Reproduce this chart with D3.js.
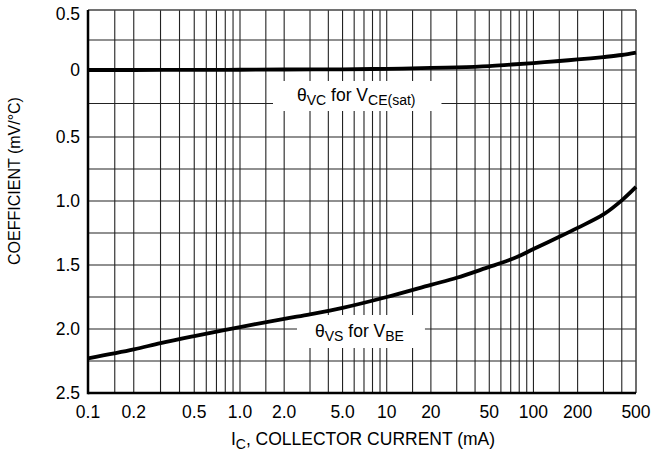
<!DOCTYPE html>
<html>
<head>
<meta charset="utf-8">
<script src="https://cdn.jsdelivr.net/npm/d3@7"></script>
<style>
  html, body { margin: 0; padding: 0; background: #fff; }
  svg { display: block; }
  text { font-family: "Liberation Sans", Arial, Helvetica, sans-serif; fill: #000; }
</style>
</head>
<body>
<svg id="chart" width="666" height="461"></svg>
<script>
// Collector current (mA) ticks and grid positions
const xTickValues = [0.1, 0.2, 0.5, 1, 2, 5, 10, 20, 50, 100, 200, 500];
const xTickLabels = ["0.1", "0.2", "0.5", "1.0", "2.0", "5.0", "10", "20", "50", "100", "200", "500"];
const xGridValues = [0.1, 0.15, 0.2, 0.3, 0.4, 0.5, 0.6, 0.7, 0.8, 0.9,
                     1, 1.5, 2, 3, 4, 5, 6, 7, 8, 9,
                     10, 15, 20, 30, 40, 50, 60, 70, 80, 90,
                     100, 150, 200, 300, 400, 500];

// Coefficient (mV/°C) ticks; negative values are printed without sign
const yTickValues = [0.5, 0, -0.5, -1.0, -1.5, -2.0, -2.5];
const yTickLabels = ["0.5", "0", "0.5", "1.0", "1.5", "2.0", "2.5"];
const yGridValues = [0.5, 0.25, 0, -0.25, -0.5, -0.75, -1.0, -1.25, -1.5, -1.75, -2.0, -2.25, -2.5];

// θVC for VCE(sat)
const vcCurrent = [0.1, 0.2, 0.5, 1, 2, 5, 10, 20, 30, 50, 70, 100, 150, 200, 300, 400, 500];
const vcCoeff   = [0, 0, 0.001, 0.002, 0.004, 0.006, 0.01, 0.017, 0.022, 0.033, 0.045, 0.058, 0.075, 0.088, 0.108, 0.125, 0.145];

// θVS for VBE
const vsCurrent = [0.1, 0.2, 0.3, 0.5, 1, 2, 3, 5, 10, 20, 30, 50, 60, 80, 100, 150, 200, 300, 400, 500];
const vsCoeff   = [-2.23, -2.16, -2.11, -2.055, -1.985, -1.92, -1.885, -1.835, -1.75, -1.655, -1.6, -1.515, -1.485, -1.43, -1.375, -1.28, -1.21, -1.105, -0.995, -0.89];

const svg = d3.select("#chart");
const plotL = 88, plotR = 636, plotT = 10, plotB = 393;
const mainSize = "17.5px", subSize = "14px";

const x = d3.scaleLog().domain([0.1, 1, 500]).range([plotL, 240, plotR]);
const y = d3.scaleLinear().domain([0.5, 0, -0.5, -2.5]).range([plotT, 70, 137, plotB]);

// grid
const grid = svg.append("g");
grid.selectAll("line.v").data(xGridValues).join("line").attr("class", "v")
  .attr("x1", d => x(d)).attr("x2", d => x(d))
  .attr("y1", plotT).attr("y2", plotB)
  .attr("stroke", "#222").attr("stroke-width", 1.1);
grid.selectAll("line.h").data(yGridValues).join("line").attr("class", "h")
  .attr("x1", plotL).attr("x2", plotR)
  .attr("y1", d => y(d)).attr("y2", d => y(d))
  .attr("stroke", "#222").attr("stroke-width", 1.1);

// frame: heavy left & bottom, light top & right
svg.append("line").attr("x1", plotL).attr("x2", plotR).attr("y1", plotT).attr("y2", plotT)
  .attr("stroke", "#555").attr("stroke-width", 1);
svg.append("line").attr("x1", plotR).attr("x2", plotR).attr("y1", plotT).attr("y2", plotB)
  .attr("stroke", "#555").attr("stroke-width", 1);
svg.append("line").attr("x1", plotL).attr("x2", plotL).attr("y1", plotT).attr("y2", plotB + 1.2)
  .attr("stroke", "#000").attr("stroke-width", 2.5);
svg.append("line").attr("x1", plotL).attr("x2", plotR).attr("y1", plotB).attr("y2", plotB)
  .attr("stroke", "#000").attr("stroke-width", 2.5);

// curve labels: white knock-out box below the curves, text on top
const boxLayer = svg.append("g");
const curveLayer = svg.append("g");
const textLayer = svg.append("g");

function curveLabel(tx, ty, parts, padL, padR, padT, padB) {
  const t = textLayer.append("text").attr("x", tx).attr("y", ty).style("font-size", mainSize);
  parts.forEach(p => {
    const s = t.append("tspan").text(p.text);
    if (p.sub) s.style("font-size", subSize).attr("dy", 4);
    else if (p.after) s.attr("dy", -4);
  });
  const b = t.node().getBBox();
  boxLayer.append("rect").attr("fill", "#fff")
    .attr("x", b.x - padL).attr("y", b.y - padT)
    .attr("width", b.width + padL + padR).attr("height", b.height + padT + padB);
}
curveLabel(297, 101, [
  {text: "θ"}, {text: "VC", sub: true}, {text: " for V", after: true}, {text: "CE(sat)", sub: true}
], 24, 26, 4, 3);
curveLabel(315, 337, [
  {text: "θ"}, {text: "VS", sub: true}, {text: " for V", after: true}, {text: "BE", sub: true}
], 18, 21, 6, 4);

// curves
const line = d3.line().x(d => x(d[0])).y(d => y(d[1])).curve(d3.curveCatmullRom.alpha(0.5));
curveLayer.append("path").datum(d3.zip(vcCurrent, vcCoeff)).attr("d", line)
  .attr("fill", "none").attr("stroke", "#000").attr("stroke-width", 3.8);
curveLayer.append("path").datum(d3.zip(vsCurrent, vsCoeff)).attr("d", line)
  .attr("fill", "none").attr("stroke", "#000").attr("stroke-width", 3.8);

// x tick labels
svg.append("g").selectAll("text").data(xTickValues).join("text")
  .attr("x", d => x(d)).attr("y", 412)
  .attr("text-anchor", "middle").attr("dominant-baseline", "central")
  .style("font-size", mainSize)
  .text((d, i) => xTickLabels[i]);

// y tick labels
svg.append("g").selectAll("text").data(yTickValues).join("text")
  .attr("x", 80).attr("y", d => Math.max(y(d), 14))
  .attr("text-anchor", "end").attr("dominant-baseline", "central")
  .style("font-size", mainSize)
  .text((d, i) => yTickLabels[i]);

// axis titles
const xt = svg.append("text").attr("x", 363).attr("y", 445)
  .attr("text-anchor", "middle").style("font-size", mainSize);
xt.append("tspan").text("I");
xt.append("tspan").text("C").style("font-size", subSize).attr("dy", 4);
xt.append("tspan").text(", COLLECTOR CURRENT (mA)").attr("dy", -4);

svg.append("text")
  .attr("transform", "translate(20,181) rotate(-90)")
  .attr("text-anchor", "middle").style("font-size", "16px")
  .text("COEFFICIENT (mV/°C)");
</script>
</body>
</html>
